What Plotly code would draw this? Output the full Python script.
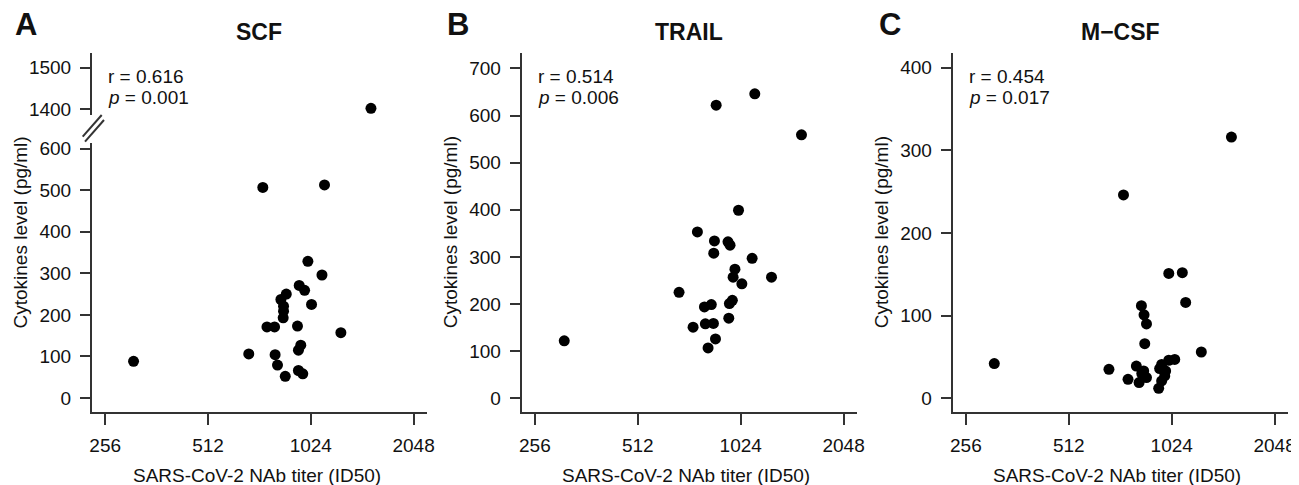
import numpy as np
import plotly.graph_objects as go

# page body has an 8px margin, so the figure is placed at (8, 8) in the window
OFF = 8
W, H = 1299 - OFF, 485 - OFF

# ---------------- data ----------------
scf_x = [310, 1536, 741, 1123, 1004, 1104, 947, 982, 868, 837, 1029, 852, 852, 850,
         762, 802, 936, 1254, 957, 942, 674, 805, 818, 862, 942, 970]
scf_y = [88, 1402, 507, 513, 329, 296, 271, 259, 250, 237, 225, 221, 209, 193,
         171, 171, 173, 157, 127, 115, 106, 104, 79, 52, 66, 58]

trail_x = [312, 868, 1126, 1542, 1009, 765, 858, 940, 953, 854, 1106, 985, 1260, 973,
           1032, 676, 968, 949, 840, 802, 945, 743, 807, 852, 864, 822]
trail_y = [122, 622, 646, 559, 399, 353, 334, 332, 325, 308, 297, 274, 257, 257,
           243, 225, 208, 201, 199, 194, 170, 151, 158, 159, 126, 107]

mcsf_x = [310, 740, 1531, 1004, 1100, 1125, 835, 850, 864, 854, 1250, 671, 763, 807,
          848, 864, 822, 837, 1045, 1004, 957, 944, 983, 977, 957, 938]
mcsf_y = [42, 246, 316, 151, 152, 116, 112, 101, 90, 66, 56, 35, 23, 39,
          33, 25, 19, 30, 47, 46, 41, 36, 33, 27, 21, 12]

panel_letters = ["A", "B", "C"]
panel_titles = ["SCF", "TRAIL", "M\u2212CSF"]
r_labels = ["r = 0.616", "r = 0.514", "r = 0.454"]
p_labels = ["0.001", "0.006", "0.017"]

x_ticks = [256, 512, 1024, 2048]
scf_low_ticks = [0, 100, 200, 300, 400, 500, 600]
scf_high_ticks = [1400, 1500]
trail_ticks = [0, 100, 200, 300, 400, 500, 600, 700]
mcsf_ticks = [0, 100, 200, 300, 400]

x_title = "SARS-CoV-2 NAb titer (ID50)"
y_title = "Cytokines level (pg/ml)"

# ---------------- layout helpers ----------------
FONT = "Liberation Sans, Arial, sans-serif"
AX = "#333333"
TXT = "#111111"
FS = 19


def px(x):
    return (x - OFF) / W


def py(y):
    return 1 - (y - OFF) / H


x_left_px = [92, 521.7, 952.7]
x_right_px = [427, 857, 1288]
y_top_px, y_bot_px = 53.3, 412
xrange_log2 = [7.872, 11.13]
xrange_log10 = [v * np.log10(2) for v in xrange_log2]

fig = go.Figure()

thr = 1000
mk = dict(color="black", size=11)
fig.add_trace(go.Scatter(
    x=[a for a, b in zip(scf_x, scf_y) if b < thr],
    y=[b for a, b in zip(scf_x, scf_y) if b < thr],
    mode="markers", marker=mk, xaxis="x", yaxis="y", showlegend=False))
fig.add_trace(go.Scatter(
    x=[a for a, b in zip(scf_x, scf_y) if b >= thr],
    y=[b for a, b in zip(scf_x, scf_y) if b >= thr],
    mode="markers", marker=mk, xaxis="x", yaxis="y4", showlegend=False))
fig.add_trace(go.Scatter(
    x=trail_x, y=trail_y, mode="markers", marker=mk,
    xaxis="x2", yaxis="y2", showlegend=False))
fig.add_trace(go.Scatter(
    x=mcsf_x, y=mcsf_y, mode="markers", marker=mk,
    xaxis="x3", yaxis="y3", showlegend=False))

common_x = dict(type="log", range=xrange_log10, tickvals=x_ticks,
                ticktext=[str(t) for t in x_ticks], showgrid=False, zeroline=False,
                showline=True, linecolor=AX, linewidth=2, ticks="outside",
                ticklen=11, tickwidth=2, tickcolor=AX,
                tickfont=dict(family=FONT, size=FS, color=TXT),
                ticklabelstandoff=4, automargin=False, fixedrange=True)
common_y = dict(showgrid=False, zeroline=False, showline=True, linecolor=AX,
                linewidth=2, ticks="outside", ticklen=10, tickwidth=2, tickcolor=AX,
                tickfont=dict(family=FONT, size=FS, color=TXT),
                ticklabelstandoff=5, automargin=False, fixedrange=True)

a_low_top, a_low_bot = 143, 412
a_high_top, a_high_bot = 52.5, 115.4

lay = {}
for i, ax_name in enumerate(["xaxis", "xaxis2", "xaxis3"]):
    d = dict(common_x)
    d["domain"] = [px(x_left_px[i]), px(x_right_px[i])]
    d["anchor"] = ["y", "y2", "y3"][i]
    lay[ax_name] = d

ya = dict(common_y)
ya.update(domain=[py(a_low_bot), py(a_low_top)], range=[-34, 614],
          tickvals=scf_low_ticks, anchor="x")
lay["yaxis"] = ya
ya4 = dict(common_y)
ya4.update(domain=[py(a_high_bot), py(a_high_top)], range=[1385, 1537],
           tickvals=scf_high_ticks, anchor="x")
lay["yaxis4"] = ya4
yb = dict(common_y)
yb.update(domain=[py(y_bot_px), py(y_top_px)], range=[-29, 732],
          tickvals=trail_ticks, anchor="x2")
lay["yaxis2"] = yb
yc = dict(common_y)
yc.update(domain=[py(y_bot_px), py(y_top_px)], range=[-16.6, 417.4],
          tickvals=mcsf_ticks, anchor="x3")
lay["yaxis3"] = yc

fig.update_layout(**lay)

ann = []
letter_x = [13, 445, 876.7]
ytitle_x = [20, 450.7, 881.7]
stat_x = [106, 536, 966.7]
for i in range(3):
    cx = (x_left_px[i] + x_right_px[i]) / 2
    ann.append(dict(text="<b>%s</b>" % panel_letters[i], x=px(letter_x[i]), y=py(24),
                    xref="paper", yref="paper", xanchor="left", yanchor="middle",
                    showarrow=False, font=dict(family=FONT, size=31, color=TXT)))
    ann.append(dict(text="<b>%s</b>" % panel_titles[i], x=px(cx), y=py(32),
                    xref="paper", yref="paper", xanchor="center", yanchor="middle",
                    showarrow=False, font=dict(family=FONT, size=23, color=TXT)))
    ann.append(dict(text=x_title, x=px(cx - 3), y=py(475),
                    xref="paper", yref="paper", xanchor="center", yanchor="middle",
                    showarrow=False, font=dict(family=FONT, size=FS, color=TXT)))
    ann.append(dict(text=y_title, x=px(ytitle_x[i]), y=py(232.5), textangle=-90,
                    xref="paper", yref="paper", xanchor="center", yanchor="middle",
                    showarrow=False, font=dict(family=FONT, size=FS, color=TXT)))
    ann.append(dict(text=r_labels[i], x=px(stat_x[i]), y=py(77),
                    xref="paper", yref="paper", xanchor="left", yanchor="middle",
                    showarrow=False, font=dict(family=FONT, size=FS, color=TXT)))
    ann.append(dict(text="<i>p</i> = " + p_labels[i], x=px(stat_x[i]), y=py(98),
                    xref="paper", yref="paper", xanchor="left", yanchor="middle",
                    showarrow=False, font=dict(family=FONT, size=FS, color=TXT)))

# axis break marks
shapes = []
for (x0, y0, x1, y1) in [(82.7, 136.7, 101.7, 115), (85, 141.7, 104, 120)]:
    shapes.append(dict(type="line", xref="paper", yref="paper",
                       x0=px(x0), y0=py(y0), x1=px(x1), y1=py(y1),
                       line=dict(color=AX, width=2)))

fig.update_layout(width=W, height=H, autosize=False,
                  margin=dict(l=0, r=0, t=0, b=0),
                  paper_bgcolor="white", plot_bgcolor="white",
                  annotations=ann, shapes=shapes, showlegend=False)

fig.write_html("out.html")
